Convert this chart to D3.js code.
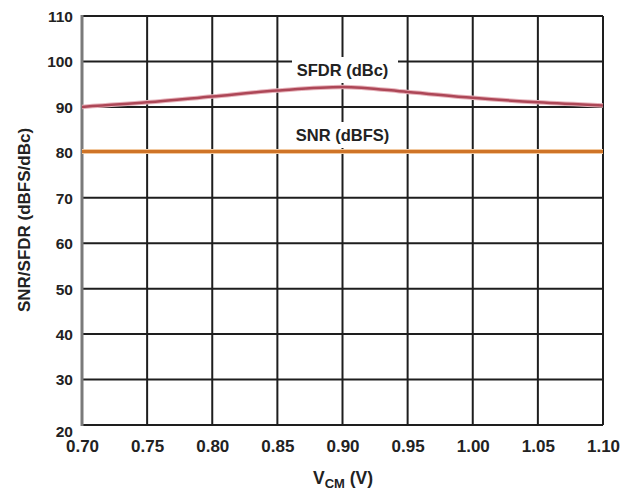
<!DOCTYPE html>
<html>
<head>
<meta charset="utf-8">
<script src="https://cdn.jsdelivr.net/npm/d3@7"></script>
<style>
  html, body { margin: 0; padding: 0; background: #fff; }
  svg { display: block; }
  text { font-family: "Liberation Sans", Arial, sans-serif; font-weight: bold; fill: #222; }
</style>
</head>
<body>
<svg id="chart" width="632" height="495"></svg>
<script>
const vcm = [0.70, 0.75, 0.80, 0.85, 0.90, 0.95, 1.00, 1.05, 1.10];
const sfdr = [90.0, 91.0, 92.3, 93.6, 94.4, 93.3, 92.0, 91.0, 90.3];
const snr = [80.2, 80.2, 80.2, 80.2, 80.2, 80.2, 80.2, 80.2, 80.2];
const xTicks = [0.70, 0.75, 0.80, 0.85, 0.90, 0.95, 1.00, 1.05, 1.10];
const yTicks = [20, 30, 40, 50, 60, 70, 80, 90, 100, 110];
const seriesLabels = ["SFDR (dBc)", "SNR (dBFS)"];

const svg = d3.select("#chart");
const x = d3.scaleLinear().domain([0.70, 1.10]).range([82, 603]);
const y = d3.scaleLinear().domain([20, 110]).range([425, 16]);

// grid
const g = svg.append("g");
g.selectAll("line.v").data(xTicks).enter().append("line")
  .attr("x1", d => x(d)).attr("x2", d => x(d))
  .attr("y1", y(110)).attr("y2", y(20))
  .attr("stroke", "#1e1e1e").attr("stroke-width", 2);
g.selectAll("line.h").data(yTicks).enter().append("line")
  .attr("x1", x(0.70)).attr("x2", x(1.10))
  .attr("y1", d => y(d)).attr("y2", d => y(d))
  .attr("stroke", "#1e1e1e").attr("stroke-width", 2);
// left axis line (grey, thicker)
g.append("line").attr("x1", x(0.70)).attr("x2", x(0.70))
  .attr("y1", y(110) - 1).attr("y2", y(20) + 1)
  .attr("stroke", "#7a7a7a").attr("stroke-width", 3);

// axes tick labels
const xAxis = d3.axisBottom(x).tickValues(xTicks).tickFormat(d3.format(".2f")).tickSize(0).tickPadding(0);
const xa = svg.append("g").attr("transform", `translate(0,${y(20)})`).call(xAxis);
xa.select(".domain").remove();
xa.selectAll("text").attr("dy", null).attr("y", 27).style("font-size", "17px").attr("fill", "#222");

const yAxis = d3.axisLeft(y).tickValues(yTicks).tickFormat(d3.format("d")).tickSize(0).tickPadding(0);
const ya = svg.append("g").attr("transform", `translate(73,0)`).call(yAxis);
ya.select(".domain").remove();
ya.selectAll("text").style("font-size", "15.5px").attr("fill", "#222")
  .attr("dy", d => d === 20 ? "0.72em" : "0.35em");

// series lines
const line = d3.line().x((d, i) => x(vcm[i])).y(d => y(d)).curve(d3.curveMonotoneX);
svg.append("path").datum(snr).attr("d", line)
  .attr("fill", "none").attr("stroke", "#f2c9a0").attr("stroke-width", 5);
svg.append("path").datum(snr).attr("d", line)
  .attr("fill", "none").attr("stroke", "#cf7427").attr("stroke-width", 3);
svg.append("path").datum(sfdr).attr("d", line)
  .attr("fill", "none").attr("stroke", "#e7b3bb").attr("stroke-width", 4.5);
svg.append("path").datum(sfdr).attr("d", line)
  .attr("fill", "none").attr("stroke", "#ad4757").attr("stroke-width", 2.5);

// series labels with white boxes
const labelPos = [{cy: 70}, {cy: 135}];
seriesLabels.forEach((t, i) => {
  svg.append("rect").attr("x", 292).attr("y", labelPos[i].cy - 13)
    .attr("width", 106).attr("height", 26).attr("fill", "#fff");
  svg.append("text").attr("x", x(0.90)).attr("y", labelPos[i].cy + 6)
    .attr("text-anchor", "middle").style("font-size", "16.5px").text(t);
});

// axis titles
const xt = svg.append("text").attr("x", 343).attr("y", 484).attr("text-anchor", "middle").style("font-size", "17.5px");
xt.append("tspan").text("V");
xt.append("tspan").attr("dy", 4).style("font-size", "13px").text("CM");
xt.append("tspan").attr("dy", -4).text(" (V)");

svg.append("text").attr("transform", "translate(30,220) rotate(-90)")
  .attr("text-anchor", "middle").style("font-size", "17px").text("SNR/SFDR (dBFS/dBc)");
</script>
</body>
</html>
